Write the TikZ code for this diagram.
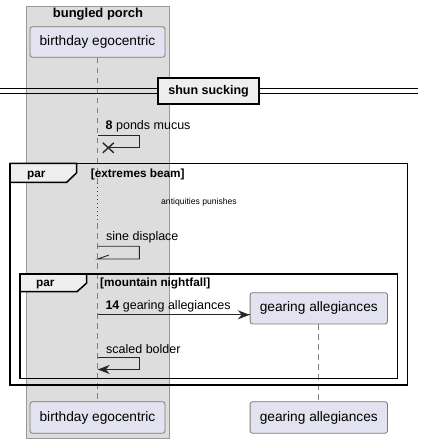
\documentclass[tikz,border=0pt]{standalone}
\usepackage{fontspec}
\setmainfont{Liberation Sans}
\usetikzlibrary{calc}
\definecolor{ptfill}{HTML}{E2E2F0}
\definecolor{ptborder}{HTML}{7A7A7A}
\definecolor{boxfill}{HTML}{DDDDDD}
\definecolor{boxborder}{HTML}{999999}
\definecolor{tabfill}{HTML}{EEEEEE}
\definecolor{lifeline}{HTML}{808080}
\definecolor{delayred}{HTML}{8C1E32}
\begin{document}
\begin{tikzpicture}[x=1pt,y=-1pt,
  participant/.style={draw=ptborder, fill=ptfill, rounded corners=2.5pt, line width=0.8pt,
    inner sep=0pt, font=\fontsize{13.7}{15}\selectfont},
  lifelinestyle/.style={draw=lifeline, line width=0.8pt, dash pattern=on 5.5pt off 4.5pt},
  delaystyle/.style={draw=delayred, line width=0.9pt, dash pattern=on 1pt off 3pt},
  msgtext/.style={anchor=base west, inner sep=0pt, font=\fontsize{12.5}{14}\selectfont},
  grouptitle/.style={anchor=base west, inner sep=0pt, font=\bfseries\fontsize{11.8}{14}\selectfont},
  frameline/.style={draw=black, line width=1.5pt},
  msgline/.style={draw=black!85, line width=0.9pt}
]
\useasboundingbox (0,0) rectangle (423,443);

% participant group box
\fill[boxfill, draw=boxborder, line width=0.8pt] (26.5,6) rectangle (169.5,438.5);
\node[anchor=base, inner sep=0pt, font=\bfseries\fontsize{13}{15}\selectfont] (boxtitle) at (98,17.3) {bungled porch};

% participants
\node[participant, minimum width=135pt, minimum height=30.6pt] (be) at (97.5,42) {birthday egocentric};
\node[participant, minimum width=135pt, minimum height=31.6pt] (beb) at (97.5,417.5) {birthday egocentric};
\node[participant, minimum width=137.4pt, minimum height=31.3pt] (ga) at (318.8,308.3) {gearing allegiances};
\node[participant, minimum width=137.4pt, minimum height=31.6pt] (gab) at (318.8,417.5) {gearing allegiances};

% lifelines
\coordinate (d1) at (97.5,183);
\coordinate (d2) at (97.5,223);
\draw[lifelinestyle] (be.south) -- (d1);
\draw[delaystyle] (d1) -- (d2);
\draw[lifelinestyle] (d2) -- (beb.north);
\draw[lifelinestyle] (ga.south) -- (gab.north);

% separator
\draw[black, line width=0.9pt] (0,88.8) -- (418,88.8);
\draw[black, line width=0.9pt] (0,93) -- (418,93);
\node[draw=black, line width=1.6pt, fill=tabfill, minimum width=100.7pt, minimum height=26pt, inner sep=0pt,
  font=\bfseries\fontsize{12.5}{15}\selectfont] (sep) at (208.6,91.3) {shun sucking};

% message 8
\node[msgtext] (m8) at (105.5,129.2) {\textbf{8} ponds mucus};
\coordinate (m8a) at (97.5,135.7);
\coordinate (m8r) at (139.3,135.7);
\coordinate (m8b) at (139.3,147.8);
\coordinate (m8x) at (108.3,147.8);
\draw[msgline] (m8a) -- (m8r) -- (m8b) -- (m8x);
\draw[black!85, line width=1.4pt] ($(m8x)+(-5.5,-5)$) -- ($(m8x)+(5.5,5)$);
\draw[black!85, line width=1.4pt] ($(m8x)+(-5.5,5)$) -- ($(m8x)+(5.5,-5)$);

% outer par frame
\draw[frameline] (10,163.3) rectangle (407.7,385);
\draw[frameline, fill=tabfill] (10,163.3) -- (76.7,163.3) -- (76.7,172.7) -- (66.7,182.3) -- (10,182.3) -- cycle;
\node[grouptitle] (par1) at (27,177.3) {par};
\node[grouptitle] (cond1) at (90.7,177.3) {[extremes beam]};

% delay text
\node[anchor=base west, inner sep=0pt, font=\fontsize{8.6}{10}\selectfont] (delay) at (161,204.3) {antiquities punishes};

% sine displace
\node[msgtext] (msd) at (106,240.5) {sine displace};
\coordinate (sda) at (97.5,246.2);
\coordinate (sdr) at (139.3,246.2);
\coordinate (sdb) at (139.3,259);
\coordinate (sde) at (97.8,259);
\coordinate (sdt) at (109,255);
\draw[msgline] (sda) -- (sdr) -- (sdb) -- (sde) -- (sdt);

% inner par frame
\draw[frameline] (20,274) rectangle (397.7,378.3);
\draw[frameline, fill=tabfill] (20,274) -- (86.7,274) -- (86.7,283) -- (77,291.7) -- (20,291.7) -- cycle;
\node[grouptitle] (par2) at (36,286.7) {par};
\node[grouptitle] (cond2) at (100,286.7) {[mountain nightfall]};

% message 14
\node[msgtext] (m14) at (105.3,309.3) {\textbf{14} gearing allegiances};
\coordinate (m14a) at (97.5,314.8);
\coordinate (m14b) at (m14a -| ga.west);
\draw[msgline] (m14a) -- (m14b);
\fill[black!85] (m14b) -- ++(-12,-4.6) -- ++(4,4.6) -- ++(-4,4.6) -- cycle;

% scaled bolder
\node[msgtext] (msb) at (106,353) {scaled bolder};
\coordinate (sba) at (97.5,357.3);
\coordinate (sbr) at (139.3,357.3);
\coordinate (sbb) at (139.3,369.5);
\coordinate (sbe) at (97.8,369.5);
\draw[msgline] (sba) -- (sbr) -- (sbb) -- (sbe);
\fill[black!85] (sbe) -- ++(12,-4.6) -- ++(-4,4.6) -- ++(4,4.6) -- cycle;
\end{tikzpicture}
\end{document}
